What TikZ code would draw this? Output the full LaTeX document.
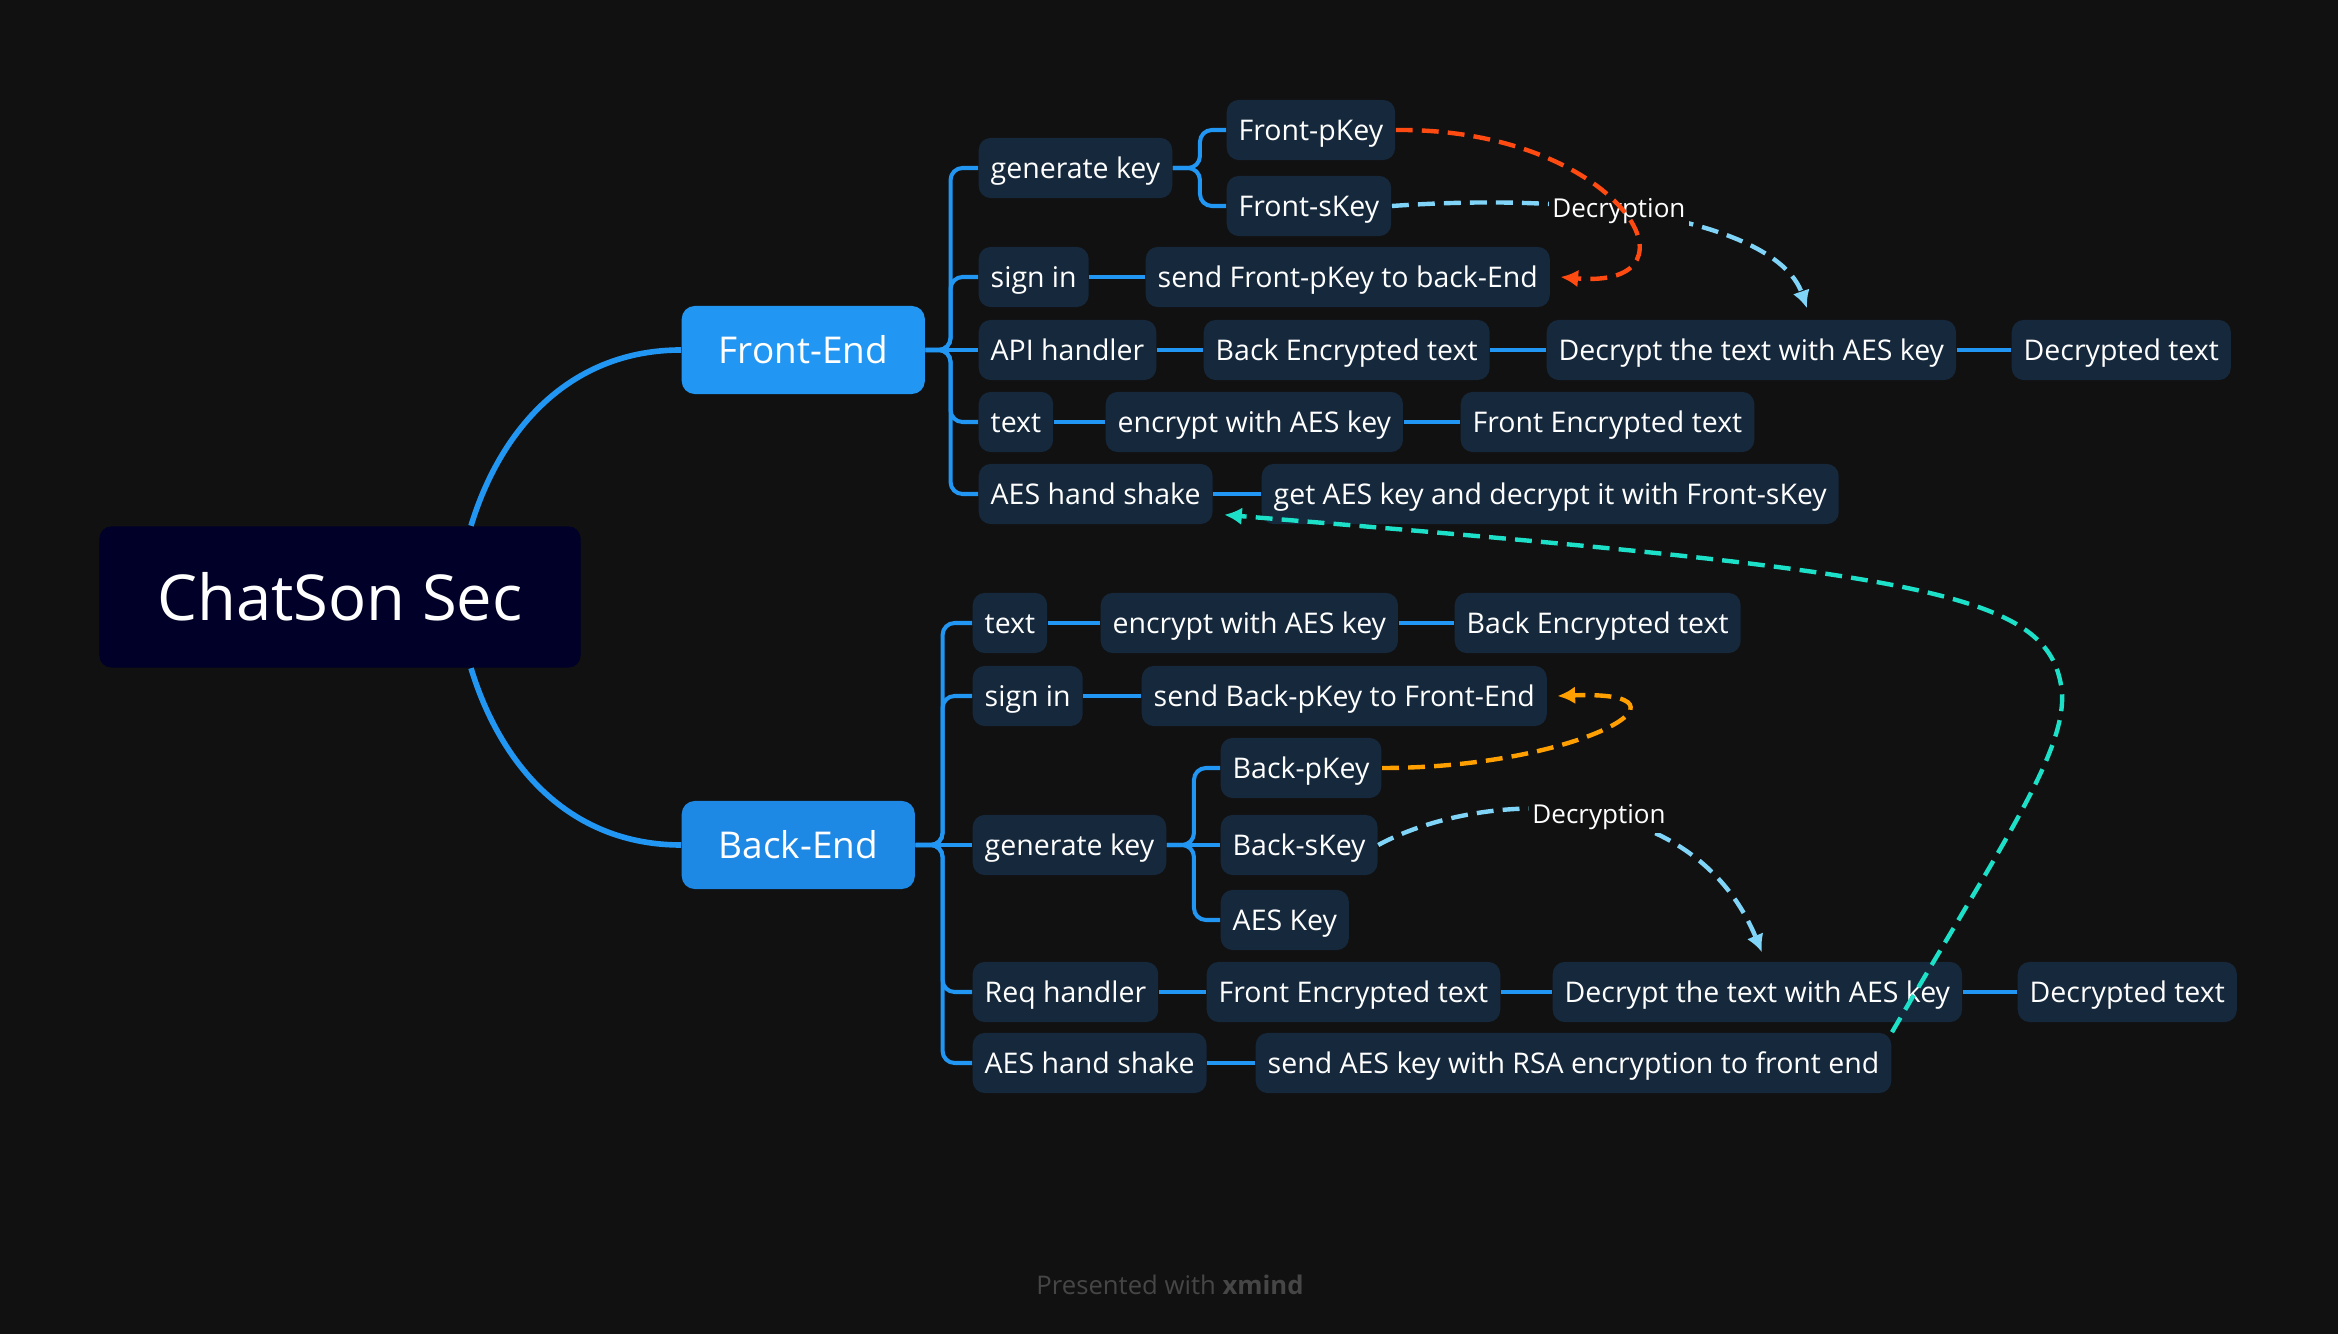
\documentclass[tikz,border=0pt]{standalone}
\usepackage{fontspec}
\setmainfont{Open Sans}
\usepackage{tikz}
\usetikzlibrary{calc}
\usetikzlibrary{arrows.meta}

\definecolor{bgcol}{HTML}{111111}
\definecolor{rootcol}{HTML}{000028}
\definecolor{frontcol}{HTML}{2196F3}
\definecolor{backcol}{HTML}{1E88E5}
\definecolor{subcol}{HTML}{15283C}
\definecolor{linecol}{HTML}{2196F3}
\definecolor{redcol}{HTML}{FF4A12}
\definecolor{skycol}{HTML}{80D4F7}
\definecolor{ambercol}{HTML}{FFA000}
\definecolor{tealcol}{HTML}{1DE0C9}
\definecolor{footcol}{HTML}{464646}

\begin{document}
\begin{tikzpicture}[x=0.01cm,y=-0.01cm]
		\tikzset{
			topic/.style={fill=subcol,text=white,rounded corners=0.12cm,anchor=west,minimum height=0.59cm,inner xsep=0.12cm,text height=1.55ex,text depth=0.4ex,font=\fontsize{8.1}{10}\selectfont},
			maintopic/.style={fill=#1,text=white,rounded corners=0.13cm,anchor=west,minimum height=0.88cm,inner xsep=0.37cm,font=\fontsize{10.5}{12}\selectfont},
			branch/.style={draw=linecol,line width=1.15pt,rounded corners=0.12cm},
			rel/.style={draw=#1,line width=1.25pt,dash pattern=on 4.8pt off 2.6pt,-{Latex[length=5pt,width=5pt]}},
			declabel/.style={fill=bgcol,text=white,inner sep=1pt,font=\fontsize{7.4}{9}\selectfont}
		}
		\fill[bgcol] (0,0) rectangle (2338,1334);
		\useasboundingbox (0,0) rectangle (2338,1334);

		\node (root) at (340,597) [fill=rootcol,text=white,rounded corners=0.12cm,minimum width=4.81cm,minimum height=1.41cm,font=\fontsize{18}{21}\selectfont] {ChatSon Sec};
		\node (fe) at (681,350) [maintopic=frontcol] {Front-End};
		\node (be) at (681,845) [maintopic=backcol] {Back-End};

		% Front-End
		\node (fgen) at (978,168) [topic] {generate key};
		\node (fpk) at (1226,130) [topic] {Front-pKey};
		\node (fsk) at (1226,206) [topic] {Front-sKey};
		\node (fsign) at (978,277) [topic] {sign in};
		\node (fsend) at (1145,277) [topic] {send Front-pKey to back-End};
		\node (fapi) at (978,350) [topic] {API handler};
		\node (fbenc) at (1203,350) [topic] {Back Encrypted text};
		\node (fdec) at (1546,350) [topic] {Decrypt the text with AES key};
		\node (fout) at (2011,350) [topic] {Decrypted text};
		\node (ftext) at (978,422) [topic] {text};
		\node (fenc) at (1105,422) [topic] {encrypt with AES key};
		\node (ffenc) at (1460,422) [topic] {Front Encrypted text};
		\node (fhand) at (978,494) [topic] {AES hand shake};
		\node (fget) at (1261,494) [topic] {get AES key and decrypt it with Front-sKey};

		% Back-End
		\node (btext) at (972,623) [topic] {text};
		\node (benc) at (1100,623) [topic] {encrypt with AES key};
		\node (bbenc) at (1454,623) [topic] {Back Encrypted text};
		\node (bsign) at (972,696) [topic] {sign in};
		\node (bsend) at (1141,696) [topic] {send Back-pKey to Front-End};
		\node (bgen) at (972,845) [topic] {generate key};
		\node (bpk) at (1220,768) [topic] {Back-pKey};
		\node (bsk) at (1220,845) [topic] {Back-sKey};
		\node (baes) at (1220,920) [topic] {AES Key};
		\node (breq) at (972,992) [topic] {Req handler};
		\node (bfenc) at (1206,992) [topic] {Front Encrypted text};
		\node (bdec) at (1552,992) [topic] {Decrypt the text with AES key};
		\node (bout) at (2017,992) [topic] {Decrypted text};
		\node (bhand) at (972,1063) [topic] {AES hand shake};
		\node (bsendaes) at (1255,1063) [topic] {send AES key with RSA encryption to front end};

		\node (foot) at (1170,1285) [text=footcol,font=\fontsize{7.3}{9}\selectfont] {Presented with \textbf{xmind}};

		% Aeste
		\draw[linecol,line width=1.6pt] (fe.west) to[out=180,in=73] ($(root.north)+(131,0)$);
		\draw[linecol,line width=1.6pt] (be.west) to[out=180,in=-73] ($(root.south)+(131,0)$);

		\foreach \c in {fgen,fsign,ftext,fhand}
			\draw[branch] (fe.east) -- ($(fe.east)+(25,0)$) |- (\c.west);
		\foreach \c in {btext,bsign,breq,bhand}
			\draw[branch] (be.east) -- ($(be.east)+(27,0)$) |- (\c.west);
		\foreach \c in {fpk,fsk}
			\draw[branch] (fgen.east) -- ($(fgen.east)+(27,0)$) |- (\c.west);
		\foreach \c in {bpk,baes}
			\draw[branch] (bgen.east) -- ($(bgen.east)+(27,0)$) |- (\c.west);

		\foreach \a/\b in {fe/fapi,fsign/fsend,fapi/fbenc,fbenc/fdec,fdec/fout,ftext/fenc,fenc/ffenc,fhand/fget,
			be/bgen,bgen/bsk,btext/benc,benc/bbenc,bsign/bsend,breq/bfenc,bfenc/bdec,bdec/bout,bhand/bsendaes}
			\draw[branch] (\a.east) -- (\b.west);

		%Flechas
		\draw[rel=skycol] (fsk.east) .. controls (1620,190) and (1780,230) .. ($(fdec.north west)+(261,-11)$) node[declabel,pos=0.38] {Decryption};
		\draw[rel=redcol] (fpk.east) .. controls (1620,128) and (1712,290) .. ($(fsend.east)+(10,0)$);
		\draw[rel=ambercol] (bpk.east) .. controls (1580,768) and (1712,690) .. ($(bsend.east)+(10,0)$);
		\draw[rel=skycol] (bsk.east) .. controls (1480,790) and (1690,780) .. ($(bdec.north west)+(210,-9)$) node[declabel,pos=0.54] {Decryption};
		\draw[rel=tealcol] (bsendaes.north east) .. controls (2010,830) and (2075,740) .. (2060,680) .. controls (2040,590) and (1900,570) .. ($(fhand.south east)+(11,-10)$);
	\end{tikzpicture}
\end{document}
